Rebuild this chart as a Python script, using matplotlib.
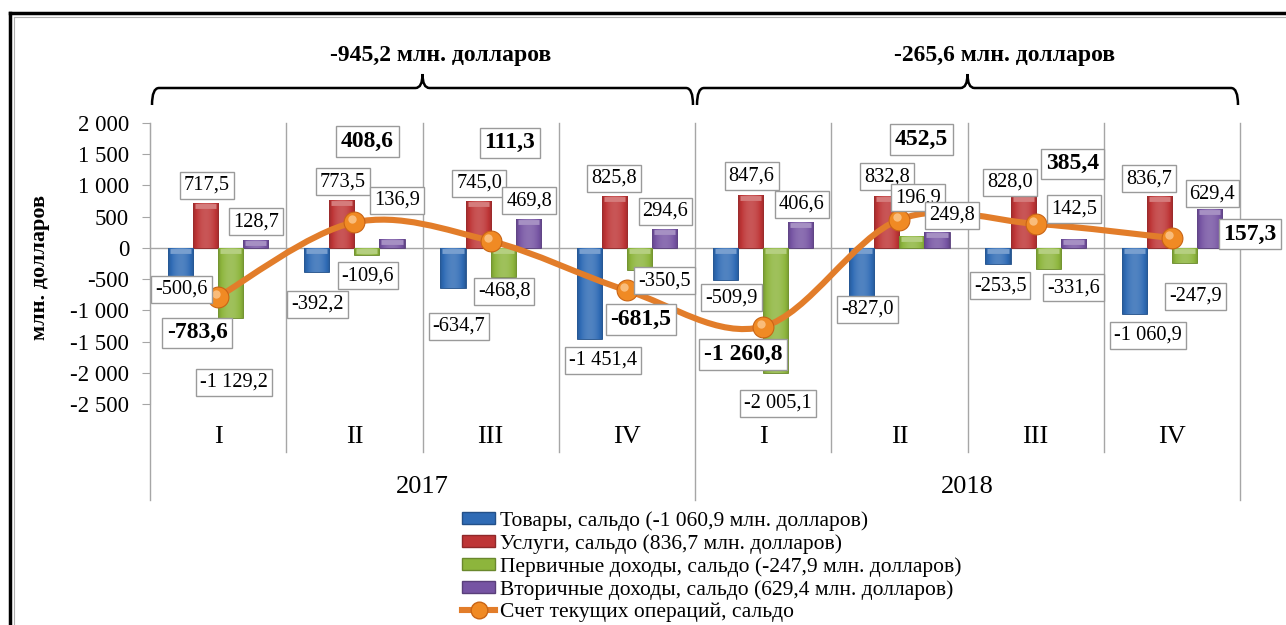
import numpy as np
import matplotlib
matplotlib.use('Agg')
import matplotlib.pyplot as plt
from matplotlib.path import Path
from matplotlib.patches import PathPatch, Patch
from matplotlib.lines import Line2D
import matplotlib.transforms as mtransforms
import matplotlib.colors as mcolors

# ---------------- data ----------------
quarters = ['I', 'II', 'III', 'IV', 'I', 'II', 'III', 'IV']
years = ['2017', '2018']
goods = [-500.6, -392.2, -634.7, -1451.4, -509.9, -827.0, -253.5, -1060.9]
services = [717.5, 773.5, 745.0, 825.8, 847.6, 832.8, 828.0, 836.7]
primary = [-1129.2, -109.6, -468.8, -350.5, -2005.1, 196.9, -331.6, -247.9]
secondary = [128.7, 136.9, 469.8, 294.6, 406.6, 249.8, 142.5, 629.4]
current = [-783.6, 408.6, 111.3, -681.5, -1260.8, 452.5, 385.4, 157.3]
year_totals = ['-945,2 млн. долларов', '-265,6 млн. долларов']
series_names = ['Товары, сальдо (-1 060,9 млн. долларов)',
                'Услуги, сальдо (836,7 млн. долларов)',
                'Первичные доходы, сальдо (-247,9 млн. долларов)',
                'Вторичные доходы, сальдо (629,4 млн. долларов)',
                'Счет текущих операций, сальдо']
y_ticks = [2000, 1500, 1000, 500, 0, -500, -1000, -1500, -2000, -2500]
y_title = 'млн. долларов'

# ---------------- style / layout ----------------
bar_colors = ['#2F6BB5', '#BE3536', '#8DB53C', '#7654A3']
line_color = '#E27D2A'
marker_color = '#F08A24'
grid_gray = '#A6A6A6'
FONT = 'Liberation Serif'
plt.rcParams['font.family'] = [FONT, 'DejaVu Serif']

# label offsets in pixels (dx, dy up) from bar end / line point
goods_off = [(1, -10), (1, -32), (6, -39), (14, -22), (6, -18), (6, -10), (2, -22), (14, -21)]
services_off = [(1, 18), (1, 18), (1, 18), (0, 18), (1, 19), (0, 19), (-13, 14), (-10, 17)]
primary_off = [(3, -64), (1, -21), (1, -14), (25, -11), (2, -30), (6, 38), (25, -19), (11, -33)]
secondary_off = [(0, 18), (5, 39), (1, 18), (1, 18), (1, 18), (15, 17), (1, 30), (3, 15)]
current_off = [(-21, -36), (13, 81), (19, 98), (14, -29), (-20, -28), (22, 80), (37, 60), (78, 4)]

W, H = 1286, 625
fig = plt.figure(figsize=(W / 100, H / 100), dpi=100)
fig.patch.set_facecolor('white')

ax_l, ax_r, ax_t, ax_b = 150, 1240, 123, 404
ax = fig.add_axes([ax_l / W, 1 - ax_b / H, (ax_r - ax_l) / W, (ax_b - ax_t) / H])
ax.set_facecolor('none')

n = len(quarters)
x = np.arange(n)
bw = 0.184
series = [goods, services, primary, secondary]
offs = [goods_off, services_off, primary_off, secondary_off]


def fmt(v):
    s = f"{abs(v):,.1f}".replace(',', ' ').replace('.', ',')
    return ('-' + s) if v < 0 else s


def shade(c, f):
    r, g, b = mcolors.to_rgb(c)
    if f < 1:
        return (r * f, g * f, b * f)
    t = f - 1
    return (r + (1 - r) * t, g + (1 - g) * t, b + (1 - b) * t)


# bars
tprof = np.linspace(0, 1, 64)
prof = 0.78 + 0.38 * np.sin(np.pi * tprof) ** 0.6
for j, (vals, col) in enumerate(zip(series, bar_colors)):
    xs = x + (j - 1.5) * bw
    bars = ax.bar(xs, vals, width=bw, color=col, edgecolor=shade(col, 0.75), linewidth=0.6, zorder=3)
    for b in bars:
        x0, y0 = b.get_x(), b.get_y()
        w, h = b.get_width(), b.get_height()
        img = np.array([[shade(col, f) for f in prof]])
        im = ax.imshow(img, extent=(x0, x0 + w, y0, y0 + h), aspect='auto', zorder=3.1,
                       interpolation='bilinear')
        im.set_clip_path(b)
        top = max(y0, y0 + h)
        tr = mtransforms.offset_copy(ax.transData, fig=fig, y=-3, units='dots')
        ax.plot([x0 + w * 0.08, x0 + w * 0.92], [top, top], color=shade(col, 1.35), lw=3.5,
                solid_capstyle='butt', transform=tr, zorder=3.2)

# smooth line (Bezier through points)
pts = np.column_stack([x, current]).astype(float)
verts = [tuple(pts[0])]
codes = [Path.MOVETO]
for i in range(n - 1):
    p0 = pts[i - 1] if i > 0 else pts[i]
    p1, p2 = pts[i], pts[i + 1]
    p3 = pts[i + 2] if i + 2 < n else pts[i + 1]
    c1 = p1 + (p2 - p0) / 6
    c2 = p2 - (p3 - p1) / 6
    verts += [tuple(c1), tuple(c2), tuple(p2)]
    codes += [Path.CURVE4] * 3
ax.add_patch(PathPatch(Path(verts, codes), fill=False, ec=line_color, lw=4.4,
                       capstyle='round', joinstyle='round', zorder=4))
ax.plot(x, current, 'o', ms=15, mfc=marker_color, mec='#C96415', mew=0.8, zorder=5)
hl = mtransforms.offset_copy(ax.transData, fig=fig, x=-2.5, y=3, units='dots')
ax.plot(x, current, 'o', ms=6, mfc='#FBC58A', mec='none', alpha=0.85, transform=hl, zorder=5.1)

# data labels
bbox_kw = dict(boxstyle='square,pad=0.2', fc='white', ec='#9A9A9A', lw=1)
for j, (vals, off) in enumerate(zip(series, offs)):
    xs = x + (j - 1.5) * bw
    for xi, v, (dx, dy) in zip(xs, vals, off):
        ax.annotate(fmt(v), (xi, v), xytext=(dx, dy), textcoords='offset pixels',
                    ha='center', va='center', fontsize=14.7, bbox=bbox_kw, zorder=6)
for xi, v, (dx, dy) in zip(x, current, current_off):
    ax.annotate(fmt(v), (xi, v), xytext=(dx, dy), textcoords='offset pixels',
                ha='center', va='center', fontsize=17, fontweight='bold',
                bbox=bbox_kw, zorder=7, annotation_clip=False)

# axes styling
ax.set_xlim(-0.5, n - 0.5)
ax.set_ylim(-2500, 2000)
ax.set_yticks(y_ticks)
ax.set_yticklabels([(('-' if t < 0 else '') + f"{abs(t):,.0f}".replace(',', ' ')) for t in y_ticks],
                   fontsize=16.5)
ax.set_xticks([])
for s in ['top', 'right', 'bottom']:
    ax.spines[s].set_visible(False)
ax.spines['left'].set_color(grid_gray)
ax.tick_params(axis='y', direction='out', length=6, color=grid_gray, pad=9)
ax.axhline(0, color=grid_gray, lw=1, zorder=2)

bt = mtransforms.blended_transform_factory(ax.transData, ax.transAxes)
pxy = 1.0 / (ax_b - ax_t)
for k in range(n + 1):
    xb = k - 0.5
    if k % 4 == 0:
        ylow = -(500 - ax_b) * pxy
    else:
        ylow = -(452 - ax_b) * pxy
    ax.plot([xb, xb], [ylow, 1.0], color=grid_gray, lw=1, transform=bt, clip_on=False, zorder=1)

for xi, q in zip(x, quarters):
    ax.text(xi, -(437 - ax_b) * pxy, q, transform=bt, ha='center', va='center', fontsize=19)
for yi, yr in enumerate(years):
    ax.text(yi * 4 + 1.5, -(487 - ax_b) * pxy, yr, transform=bt, ha='center', va='center', fontsize=19)

fig.text(40 / W, 1 - 267 / H, y_title, rotation=90, ha='center', va='center',
         fontsize=16, fontweight='bold')

# braces and year totals
pxx = 1.0 / 136.25
for yi, txt in enumerate(year_totals):
    x0 = yi * 4 - 0.5 + 2 * pxx
    x1 = yi * 4 + 3.5 - 2 * pxx
    tip = yi * 4 + 1.5
    yb = 1 + (ax_t - 105) * pxy
    yh = 1 + (ax_t - 88) * pxy
    yt = 1 + (ax_t - 74) * pxy
    r = 7 * pxx
    v = [(x0, yb), (x0, yh), (x0 + r, yh), (tip - r, yh), (tip, yh), (tip, yt),
         (tip, yh), (tip + r, yh), (x1 - r, yh), (x1, yh), (x1, yb)]
    c = [Path.MOVETO, Path.CURVE3, Path.CURVE3, Path.LINETO, Path.CURVE3, Path.CURVE3,
         Path.CURVE3, Path.CURVE3, Path.LINETO, Path.CURVE3, Path.CURVE3]
    ax.add_patch(PathPatch(Path(v, c), fill=False, ec='black', lw=1.8, transform=bt,
                           clip_on=False, zorder=2))
tx = [441, 1005]
for xx, txt in zip(tx, year_totals):
    fig.text(xx / W, 1 - 55 / H, txt, ha='center', va='center', fontsize=17, fontweight='bold')

# legend
handles = [Patch(facecolor=c, edgecolor=shade(c, 0.75)) for c in bar_colors]
handles.append(Line2D([0], [0], color=line_color, lw=4.4, marker='o', ms=12,
                      mfc=marker_color, mec='#C96415'))
fig.legend(handles, series_names, loc='upper left', bbox_to_anchor=(462 / W, 1 - 511 / H),
           frameon=False, fontsize=15.5, handlelength=1.55, handleheight=0.5,
           handletextpad=0.2, labelspacing=0.15, borderpad=0, borderaxespad=0)

# outer frame (top and left visible)
fig.add_artist(Line2D([10 / W, 10 / W], [0, 1 - 13 / H], color='black', lw=2.5, transform=fig.transFigure))
fig.add_artist(Line2D([10 / W, 1], [1 - 13 / H, 1 - 13 / H], color='black', lw=2.5, transform=fig.transFigure))
fig.add_artist(Line2D([14 / W, 14 / W], [0, 1 - 17 / H], color='#B0B0B0', lw=0.8, transform=fig.transFigure))
fig.add_artist(Line2D([14 / W, 1], [1 - 17 / H, 1 - 17 / H], color='#B0B0B0', lw=0.8, transform=fig.transFigure))

fig.savefig('out.png', dpi=100)
